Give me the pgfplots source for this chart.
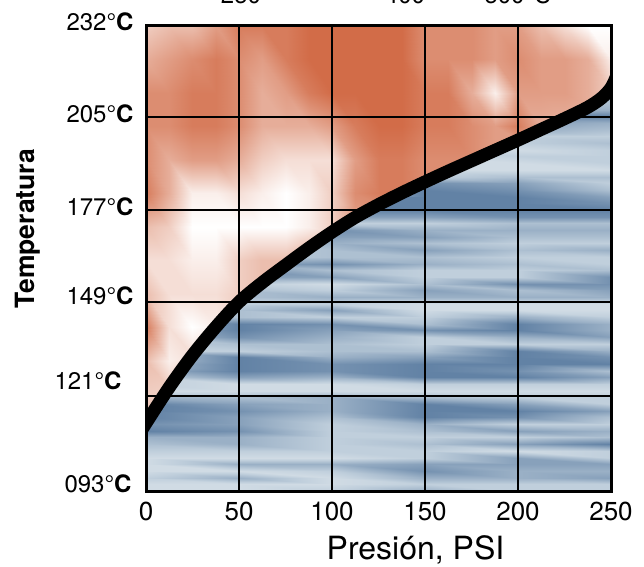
\documentclass[border=0pt]{standalone}
\usepackage{fontspec}
\usepackage{pgfplots}
\pgfplotsset{compat=1.18}
\setmainfont{TeX Gyre Heros}
% y tick label: raise, text, gap on the right
\newcommand\yl[3]{\raisebox{\dimexpr#1-8.6pt\relax}[0pt][0pt]{#2°\textbf{C}\hspace*{#3}}}
\begin{document}
\begin{tikzpicture}
\path[use as bounding box] (0,0) rectangle (644pt,566pt);
\begin{axis}[
    at={(146pt,75pt)}, anchor=south west,
    scale only axis, width=465pt, height=465pt,
    xmin=0, xmax=250, ymin=93, ymax=232,
    axis on top,
    axis line style={line width=3pt},
    xtick={0,50,100,150,200,250},
    xticklabels={\raisebox{-3pt}{0},50,100,150,200,\raisebox{-3pt}{250}},
    ytick={93,121.4,149.5,177,204.8,232},
    yticklabels={\yl{7pt}{093}{2pt},\yl{15pt}{121}{12pt},\yl{6pt}{149}{0pt},\yl{3pt}{177}{0pt},\yl{3pt}{205}{0pt},\yl{4pt}{232}{0pt}},
    tick style={draw=none},
    grid=major,
    grid style={black, line width=2.6pt, solid},
    font=\fontsize{24}{24}\selectfont,
    xticklabel style={font=\fontsize{26}{26}\selectfont, yshift=-7.5pt},
    yticklabel style={anchor=east, xshift=-9pt},
    xlabel={Presión, PSI},
    xlabel style={font=\fontsize{32}{32}\selectfont, inner sep=0pt, xshift=37pt, yshift=-11pt},
    ylabel={\textbf{Temperatura}},
    ylabel style={font=\fontsize{26.5}{26.5}\selectfont, yshift=7pt, xshift=30pt},
    colormap={mix}{rgb255(0cm)=(70,105,148); rgb255(3cm)=(98,130,165); rgb255(8cm)=(192,207,220); rgb255(10cm)=(224,231,236); rgb255(11cm)=(255,255,255); rgb255(20cm)=(210,108,72)},
    point meta min=0, point meta max=20,
]
% water side, horizontal streaks
\addplot[surf, shader=interp, mesh/cols=6, point meta=explicit] coordinates {
(0,93)[9] (50,93)[9] (100,93)[8] (150,93)[6] (200,93)[8] (250,93)[8]
(0,95)[9] (50,95)[9] (100,95)[9] (150,95)[8] (200,95)[8] (250,95)[8]
(0,97)[8] (50,97)[6] (100,97)[9] (150,97)[6] (200,97)[6] (250,97)[5]
(0,99)[9] (50,99)[9] (100,99)[8] (150,99)[4] (200,99)[6] (250,99)[6]
(0,101)[9] (50,101)[6] (100,101)[6] (150,101)[5] (200,101)[5] (250,101)[5]
(0,103)[9] (50,103)[9] (100,103)[9] (150,103)[8] (200,103)[5] (250,103)[8]
(0,105)[8] (50,105)[8] (100,105)[8] (150,105)[8] (200,105)[9] (250,105)[8]
(0,107)[7] (50,107)[6] (100,107)[8] (150,107)[7] (200,107)[5] (250,107)[3]
(0,109)[6] (50,109)[6] (100,109)[8] (150,109)[8] (200,109)[8] (250,109)[7]
(0,111)[3] (50,111)[4] (100,111)[8] (150,111)[7] (200,111)[5] (250,111)[6]
(0,113)[4] (50,113)[5] (100,113)[8] (150,113)[6] (200,113)[8] (250,113)[8]
(0,115)[3] (50,115)[5] (100,115)[7] (150,115)[3] (200,115)[4] (250,115)[7]
(0,117)[3] (50,117)[4] (100,117)[6] (150,117)[3] (200,117)[3] (250,117)[5]
(0,119)[3] (50,119)[5] (100,119)[6] (150,119)[3] (200,119)[5] (250,119)[8]
(0,121)[6] (50,121)[7] (100,121)[6] (150,121)[7] (200,121)[8] (250,121)[8]
(0,123)[9] (50,123)[9] (100,123)[9] (150,123)[9] (200,123)[9] (250,123)[9]
(0,125)[8] (50,125)[9] (100,125)[9] (150,125)[8] (200,125)[8] (250,125)[8]
(0,127)[8] (50,127)[5] (100,127)[6] (150,127)[3] (200,127)[3] (250,127)[5]
(0,129)[6] (50,129)[3] (100,129)[4] (150,129)[3] (200,129)[4] (250,129)[7]
(0,131)[7] (50,131)[3] (100,131)[4] (150,131)[3] (200,131)[3] (250,131)[3]
(0,133)[8] (50,133)[3] (100,133)[6] (150,133)[5] (200,133)[3] (250,133)[4]
(0,135)[8] (50,135)[8] (100,135)[7] (150,135)[7] (200,135)[3] (250,135)[6]
(0,137)[8] (50,137)[7] (100,137)[7] (150,137)[8] (200,137)[8] (250,137)[8]
(0,139)[8] (50,139)[4] (100,139)[6] (150,139)[8] (200,139)[6] (250,139)[5]
(0,141)[7] (50,141)[3] (100,141)[5] (150,141)[4] (200,141)[3] (250,141)[6]
(0,143)[8] (50,143)[3] (100,143)[4] (150,143)[7] (200,143)[3] (250,143)[6]
(0,145)[8] (50,145)[7] (100,145)[8] (150,145)[8] (200,145)[6] (250,145)[8]
(0,147)[8] (50,147)[7] (100,147)[5] (150,147)[9] (200,147)[9] (250,147)[9]
(0,149)[9] (50,149)[8] (100,149)[8] (150,149)[9] (200,149)[9] (250,149)[9]
(0,151)[9] (50,151)[7] (100,151)[6] (150,151)[6] (200,151)[6] (250,151)[6]
(0,153)[9] (50,153)[7] (100,153)[8] (150,153)[5] (200,153)[7] (250,153)[5]
(0,155)[8] (50,155)[8] (100,155)[9] (150,155)[7] (200,155)[4] (250,155)[4]
(0,157)[8] (50,157)[5] (100,157)[5] (150,157)[8] (200,157)[8] (250,157)[4]
(0,159)[8] (50,159)[4] (100,159)[7] (150,159)[8] (200,159)[8] (250,159)[7]
(0,161)[8] (50,161)[5] (100,161)[4] (150,161)[6] (200,161)[7] (250,161)[8]
(0,163)[8] (50,163)[8] (100,163)[7] (150,163)[7] (200,163)[8] (250,163)[8]
(0,165)[8] (50,165)[8] (100,165)[7] (150,165)[5] (200,165)[7] (250,165)[6]
(0,167)[8] (50,167)[8] (100,167)[6] (150,167)[7] (200,167)[8] (250,167)[8]
(0,169)[8] (50,169)[8] (100,169)[5] (150,169)[5] (200,169)[7] (250,169)[7]
(0,171)[8] (50,171)[8] (100,171)[4] (150,171)[6] (200,171)[6] (250,171)[6]
(0,173)[8] (50,173)[8] (100,173)[8] (150,173)[8] (200,173)[7] (250,173)[7]
(0,175)[8] (50,175)[8] (100,175)[5] (150,175)[5] (200,175)[4] (250,175)[4]
(0,177)[8] (50,177)[8] (100,177)[3] (150,177)[3] (200,177)[3] (250,177)[3]
(0,179)[8] (50,179)[8] (100,179)[3] (150,179)[3] (200,179)[3] (250,179)[4]
(0,181)[8] (50,181)[8] (100,181)[3] (150,181)[3] (200,181)[3] (250,181)[5]
(0,183)[8] (50,183)[8] (100,183)[8] (150,183)[3] (200,183)[4] (250,183)[7]
(0,185)[8] (50,185)[8] (100,185)[8] (150,185)[4] (200,185)[5] (250,185)[8]
(0,187)[8] (50,187)[8] (100,187)[8] (150,187)[8] (200,187)[7] (250,187)[7]
(0,189)[8] (50,189)[8] (100,189)[8] (150,189)[9] (200,189)[9] (250,189)[9]
(0,191)[8] (50,191)[8] (100,191)[8] (150,191)[9] (200,191)[9] (250,191)[8]
(0,193)[8] (50,193)[8] (100,193)[8] (150,193)[9] (200,193)[8] (250,193)[8]
(0,195)[8] (50,195)[8] (100,195)[8] (150,195)[8] (200,195)[9] (250,195)[8]
(0,197)[8] (50,197)[8] (100,197)[8] (150,197)[8] (200,197)[8] (250,197)[7]
(0,199)[8] (50,199)[8] (100,199)[8] (150,199)[8] (200,199)[8] (250,199)[8]
(0,201)[8] (50,201)[8] (100,201)[8] (150,201)[8] (200,201)[6] (250,201)[7]
(0,203)[8] (50,203)[8] (100,203)[8] (150,203)[8] (200,203)[5] (250,203)[6]
(0,205)[8] (50,205)[8] (100,205)[8] (150,205)[8] (200,205)[3] (250,205)[3]
(0,207)[8] (50,207)[8] (100,207)[8] (150,207)[8] (200,207)[6] (250,207)[6]
(0,209)[8] (50,209)[8] (100,209)[8] (150,209)[8] (200,209)[7] (250,209)[7]
(0,211)[8] (50,211)[8] (100,211)[8] (150,211)[8] (200,211)[7] (250,211)[7]
};
% steam side, bottom row runs along the curve
\addplot[surf, shader=interp, mesh/cols=21, point meta=explicit] coordinates {
(0,113.3)[15] (12.5,124)[14] (25,133.6)[13] (37.5,142)[12] (50,149.5)[14] (62.5,155.3)[15] (75,160.5)[15] (87.5,165.6)[15] (100,170.4)[14] (112.5,174.8)[17] (125,178.6)[18] (137.5,182.1)[19] (150,185.4)[18] (162.5,188.6)[18] (175,191.7)[18] (187.5,194.8)[17] (200,197.9)[17] (212.5,201.1)[16] (225,204.3)[16] (237.5,207.7)[16] (250,213.5)[14]
(0,122)[14] (12.5,124)[14] (25,133.6)[13] (37.5,142)[12] (50,149.5)[14] (62.5,155.3)[15] (75,160.5)[15] (87.5,165.6)[15] (100,170.4)[14] (112.5,174.8)[17] (125,178.6)[18] (137.5,182.1)[19] (150,185.4)[18] (162.5,188.6)[18] (175,191.7)[18] (187.5,194.8)[17] (200,197.9)[17] (212.5,201.1)[16] (225,204.3)[16] (237.5,207.7)[16] (250,213.5)[14]
(0,132)[15] (12.5,132)[12] (25,133.6)[13] (37.5,142)[12] (50,149.5)[14] (62.5,155.3)[15] (75,160.5)[15] (87.5,165.6)[15] (100,170.4)[14] (112.5,174.8)[17] (125,178.6)[18] (137.5,182.1)[19] (150,185.4)[18] (162.5,188.6)[18] (175,191.7)[18] (187.5,194.8)[17] (200,197.9)[17] (212.5,201.1)[16] (225,204.3)[16] (237.5,207.7)[16] (250,213.5)[14]
(0,142)[19] (12.5,142)[13] (25,142)[11] (37.5,142)[12] (50,149.5)[14] (62.5,155.3)[15] (75,160.5)[15] (87.5,165.6)[15] (100,170.4)[14] (112.5,174.8)[17] (125,178.6)[18] (137.5,182.1)[19] (150,185.4)[18] (162.5,188.6)[18] (175,191.7)[18] (187.5,194.8)[17] (200,197.9)[17] (212.5,201.1)[16] (225,204.3)[16] (237.5,207.7)[16] (250,213.5)[14]
(0,152)[15] (12.5,152)[13] (25,152)[13] (37.5,152)[13] (50,152)[14] (62.5,155.3)[15] (75,160.5)[15] (87.5,165.6)[15] (100,170.4)[14] (112.5,174.8)[17] (125,178.6)[18] (137.5,182.1)[19] (150,185.4)[18] (162.5,188.6)[18] (175,191.7)[18] (187.5,194.8)[17] (200,197.9)[17] (212.5,201.1)[16] (225,204.3)[16] (237.5,207.7)[16] (250,213.5)[14]
(0,162)[13] (12.5,162)[13] (25,162)[12] (37.5,162)[12] (50,162)[14] (62.5,162)[15] (75,162)[15] (87.5,165.6)[15] (100,170.4)[14] (112.5,174.8)[17] (125,178.6)[18] (137.5,182.1)[19] (150,185.4)[18] (162.5,188.6)[18] (175,191.7)[18] (187.5,194.8)[17] (200,197.9)[17] (212.5,201.1)[16] (225,204.3)[16] (237.5,207.7)[16] (250,213.5)[14]
(0,172)[15] (12.5,172)[14] (25,172)[11] (37.5,172)[11] (50,172)[11] (62.5,172)[11] (75,172)[11] (87.5,172)[12] (100,172)[14] (112.5,174.8)[17] (125,178.6)[18] (137.5,182.1)[19] (150,185.4)[18] (162.5,188.6)[18] (175,191.7)[18] (187.5,194.8)[17] (200,197.9)[17] (212.5,201.1)[16] (225,204.3)[16] (237.5,207.7)[16] (250,213.5)[14]
(0,182)[19] (12.5,182)[16] (25,182)[12] (37.5,182)[12] (50,182)[13] (62.5,182)[12] (75,182)[11] (87.5,182)[12] (100,182)[14] (112.5,182)[18] (125,182)[19] (137.5,182.1)[19] (150,185.4)[18] (162.5,188.6)[18] (175,191.7)[18] (187.5,194.8)[17] (200,197.9)[17] (212.5,201.1)[16] (225,204.3)[16] (237.5,207.7)[16] (250,213.5)[14]
(0,192)[18] (12.5,192)[16] (25,192)[17] (37.5,192)[17] (50,192)[16] (62.5,192)[14] (75,192)[13] (87.5,192)[13] (100,192)[13] (112.5,192)[17] (125,192)[19] (137.5,192)[19] (150,192)[18] (162.5,192)[18] (175,192)[18] (187.5,194.8)[17] (200,197.9)[17] (212.5,201.1)[16] (225,204.3)[16] (237.5,207.7)[16] (250,213.5)[14]
(0,202)[18] (12.5,202)[18] (25,202)[19] (37.5,202)[19] (50,202)[18] (62.5,202)[16] (75,202)[16] (87.5,202)[16] (100,202)[17] (112.5,202)[19] (125,202)[20] (137.5,202)[20] (150,202)[19] (162.5,202)[19] (175,202)[18] (187.5,202)[17] (200,202)[19] (212.5,202)[16] (225,204.3)[16] (237.5,207.7)[16] (250,213.5)[14]
(0,212)[18] (12.5,212)[18] (25,212)[19] (37.5,212)[19] (50,212)[18] (62.5,212)[16] (75,212)[17] (87.5,212)[19] (100,212)[20] (112.5,212)[20] (125,212)[20] (137.5,212)[20] (150,212)[19] (162.5,212)[19] (175,212)[16] (187.5,212)[12] (200,212)[17] (212.5,212)[17] (225,212)[17] (237.5,212)[16] (250,213.5)[14]
(0,222)[16] (12.5,222)[17] (25,222)[18] (37.5,222)[19] (50,222)[18] (62.5,222)[17] (75,222)[19] (87.5,222)[20] (100,222)[20] (112.5,222)[20] (125,222)[20] (137.5,222)[20] (150,222)[18] (162.5,222)[18] (175,222)[18] (187.5,222)[17] (200,222)[18] (212.5,222)[17] (225,222)[17] (237.5,222)[16] (250,222)[12]
(0,232)[14] (12.5,232)[15] (25,232)[15] (37.5,232)[17] (50,232)[19] (62.5,232)[19] (75,232)[19] (87.5,232)[20] (100,232)[20] (112.5,232)[20] (125,232)[20] (137.5,232)[20] (150,232)[18] (162.5,232)[18] (175,232)[18] (187.5,232)[17] (200,232)[17] (212.5,232)[15] (225,232)[13] (237.5,232)[11] (250,232)[11]
};
% saturation curve, runs a little past both sides of the frame
\addplot[black, line width=13pt, smooth, tension=0.5, no markers] coordinates {
(-5,108.8) (0,113.3) (12.5,124) (25,133.6) (37.5,142) (50,149.5) (62.5,155.3) (75,160.5) (87.5,165.6) (100,170.4) (112.5,174.8) (125,178.6) (137.5,182.1) (150,185.4) (162.5,188.6) (175,191.7) (187.5,194.8) (200,197.9) (212.5,201.1) (225,204.3) (237.5,207.7) (245,210.5) (250,213.5) (253,217)
};
\end{axis}
% labels cut off by the top edge of the source
\node[font=\fontsize{24}{24}\selectfont, anchor=base] at (241pt,562pt) {250};
\node[font=\fontsize{24}{24}\selectfont, anchor=base] at (405pt,562pt) {400};
\node[font=\fontsize{24}{24}\selectfont, anchor=base] at (518pt,562pt) {500°C};
\end{tikzpicture}
\end{document}
